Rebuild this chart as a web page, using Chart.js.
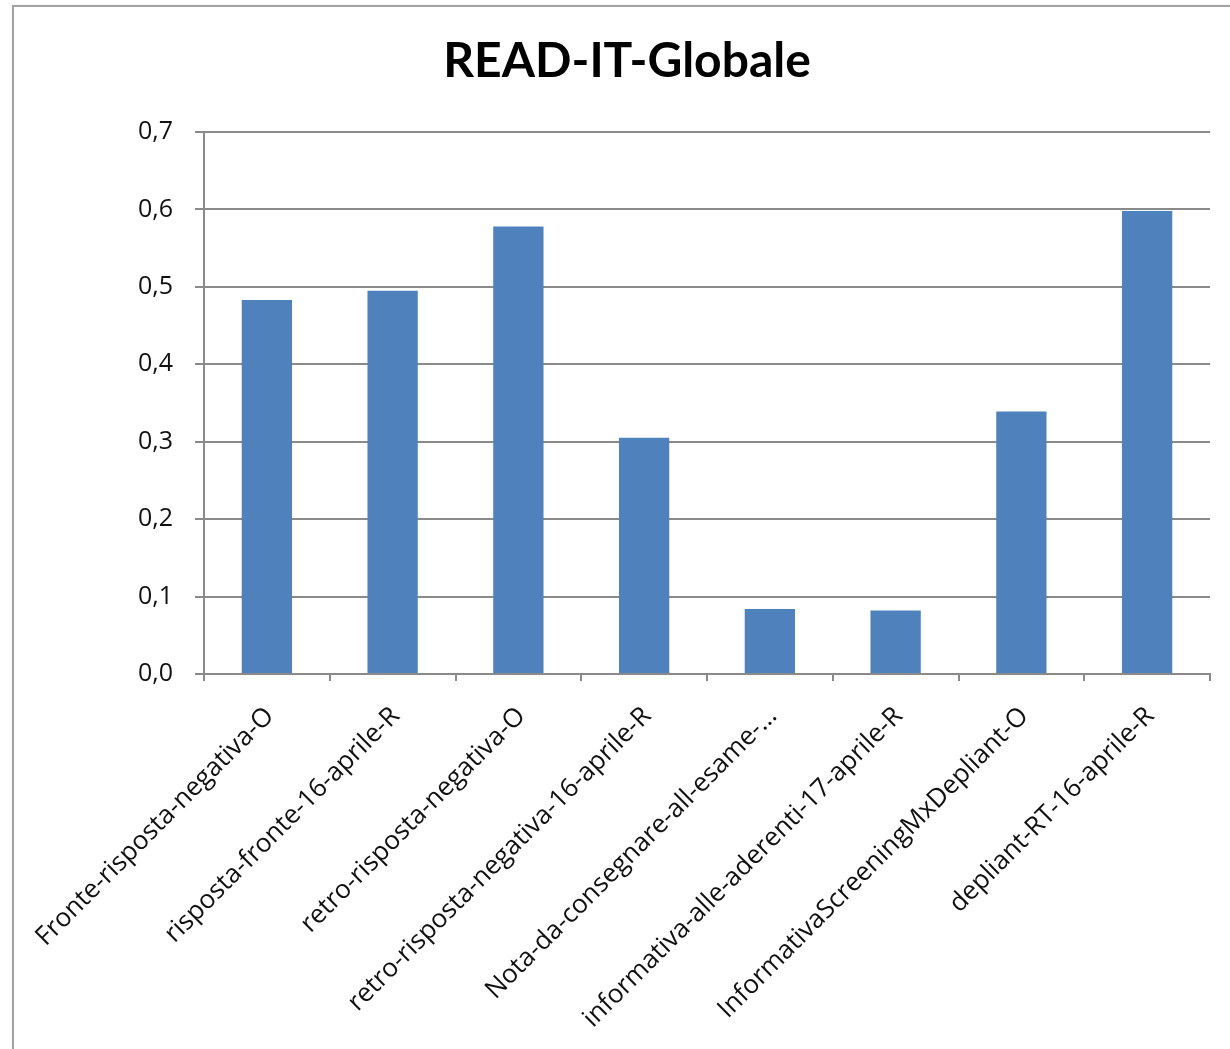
<!DOCTYPE html>
<html>
<head>
<meta charset="utf-8">
<title>READ-IT-Globale</title>
<script src="https://cdn.jsdelivr.net/npm/chart.js@4"></script>
<style>
  html, body { margin: 0; padding: 0; background: #fff; overflow: hidden; width: 1230px; height: 1049px; }
  #frame {
    position: absolute; left: 12px; top: 5px; width: 1250px; height: 1100px;
    border: 2px solid #a3a3a3; background: #fff; box-shadow: 0 0 1px #cfcfcf;
  }
  #chart { position: absolute; left: 0; top: 0; }
</style>
</head>
<body>
<div id="frame"></div>
<canvas id="chart" width="1254" height="1049"></canvas>
<script>
// Documents and their global READ-IT score
const categories = [
  'Fronte-risposta-negativa-O',
  'risposta-fronte-16-aprile-R',
  'retro-risposta-negativa-O',
  'retro-risposta-negativa-16-aprile-R',
  'Nota-da-consegnare-all-esame-…',
  'informativa-alle-aderenti-17-aprile-R',
  'InformativaScreeningMxDepliant-O',
  'depliant-RT-16-aprile-R'
];
const scores = [0.483, 0.495, 0.578, 0.305, 0.084, 0.082, 0.339, 0.598];
const yTickLabels = ['0,0', '0,1', '0,2', '0,3', '0,4', '0,5', '0,6', '0,7'];

const axisGrey = '#8a8a8a';
const labelFont = 'Open Sans';

new Chart(document.getElementById('chart'), {
  type: 'bar',
  data: {
    labels: categories,
    datasets: [{
      label: 'READ-IT-Globale',
      data: scores,
      backgroundColor: '#4F81BD',
      borderWidth: 0,
      barPercentage: 0.4,
      categoryPercentage: 1.0
    }]
  },
  options: {
    responsive: false,
    animation: false,
    layout: { padding: 0 },
    plugins: {
      legend: { display: false },
      tooltip: { enabled: false },
      title: {
        display: true,
        text: 'READ-IT-Globale',
        color: '#000',
        font: { family: 'Lato', size: 48, weight: 'bold' },
        padding: { top: 33, bottom: 41.4 }
      }
    },
    scales: {
      x: {
        grid: {
          offset: true,
          drawOnChartArea: false,
          drawTicks: true,
          tickLength: 7,
          color: axisGrey,
          lineWidth: 2
        },
        border: { display: true, color: axisGrey, width: 2 },
        ticks: {
          autoSkip: false,
          minRotation: 45,
          maxRotation: 45,
          padding: 20,
          labelOffset: 3,
          color: '#111',
          font: { family: labelFont, size: 26 }
        },
        afterFit(scale) { scale.height = 375; }
      },
      y: {
        min: 0,
        max: 0.7,
        ticks: {
          stepSize: 0.1,
          padding: 22,
          color: '#111',
          font: { family: labelFont, size: 25 },
          callback: (value, index) => yTickLabels[index]
        },
        grid: {
          color: axisGrey,
          lineWidth: 2,
          drawTicks: true,
          tickLength: 9
        },
        border: { display: true, color: axisGrey, width: 2 },
        afterFit(scale) { scale.width = 204; }
      },
      yRight: {
        position: 'right',
        display: true,
        grid: { display: false },
        border: { display: false },
        ticks: { display: false },
        afterFit(scale) { scale.width = 44; }
      }
    }
  }
});
</script>
</body>
</html>
